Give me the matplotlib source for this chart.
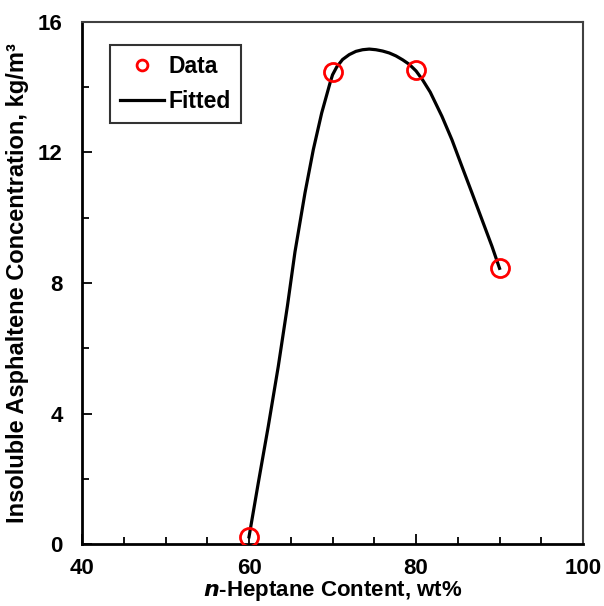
import matplotlib
matplotlib.use("Agg")
import matplotlib.pyplot as plt
from matplotlib.ticker import MultipleLocator

plt.rcParams['font.family'] = ['Liberation Sans', 'DejaVu Sans']
plt.rcParams['font.weight'] = 'bold'

# measured points
data_x = [60, 70, 80, 90]
data_y = [0.22, 14.46, 14.53, 8.47]

# fitted curve
fit_x = [60, 61.1, 62.3, 63.5, 64.6, 65.5, 66.7, 67.7, 68.7, 69.7, 70.0, 70.5, 71.2,
         72.0, 72.8, 73.6, 74.4, 75.2, 76.0, 76.8, 77.6, 78.4, 79.2, 80.0, 80.8,
         81.7, 83.1, 84.3, 85.5, 86.7, 87.9, 89.1, 90]
fit_y = [0.22, 1.86, 3.6, 5.44, 7.3, 8.95, 10.76, 12.09, 13.21, 14.13, 14.38, 14.62, 14.85,
         15.0, 15.1, 15.15, 15.17, 15.15, 15.11, 15.05, 14.96, 14.84, 14.7, 14.5, 14.22,
         13.85, 13.11, 12.39, 11.57, 10.76, 9.94, 9.12, 8.45]

fig = plt.figure(figsize=(6.04, 6.06), dpi=100)
ax = fig.add_axes([0.1358, 0.1023, 0.8295, 0.8614])

ax.plot(fit_x, fit_y, color='black', lw=2.3, label='Fitted', zorder=3)
ax.plot(data_x, data_y, 'o', mfc='none', mec='red', ms=13, mew=2, label='Data', zorder=4)

ax.set_xlim(40, 100)
ax.set_ylim(0, 16)
ax.xaxis.set_major_locator(MultipleLocator(20))
ax.xaxis.set_minor_locator(MultipleLocator(5))
ax.yaxis.set_major_locator(MultipleLocator(4))
ax.yaxis.set_minor_locator(MultipleLocator(2))
ax.tick_params(which='both', direction='in', top=False, right=False, width=1.3,
               labelsize=16, colors='black')
ax.tick_params(which='major', length=7)
ax.tick_params(which='minor', length=5)
ax.tick_params(axis='x', which='major', pad=10)
ax.tick_params(axis='y', which='major', pad=14)

for s in ['left', 'bottom']:
    ax.spines[s].set_linewidth(2)
    ax.spines[s].set_color('black')
for s in ['top', 'right']:
    ax.spines[s].set_linewidth(1.5)
    ax.spines[s].set_color('#404040')

ax.set_xlabel(r'$\mathbfit{n}$-Heptane Content, wt%', fontsize=16, fontweight='bold', labelpad=0)
ax.set_ylabel('Insoluble Asphaltene Concentration, kg/m³', fontsize=17, fontweight='bold', labelpad=6)

handles, labels = ax.get_legend_handles_labels()
leg = ax.legend(handles[::-1], labels[::-1], loc='upper left', bbox_to_anchor=(0.056, 0.956),
                borderaxespad=0, fontsize=16.5, frameon=True, fancybox=False,
                markerscale=0.6, handlelength=1.9, handletextpad=0.2,
                borderpad=0.45, labelspacing=0.5)
leg.get_frame().set_edgecolor('black')
leg.get_frame().set_linewidth(1.5)
for t in leg.get_texts():
    t.set_fontweight('bold')

fig.savefig('out.png', dpi=100)
